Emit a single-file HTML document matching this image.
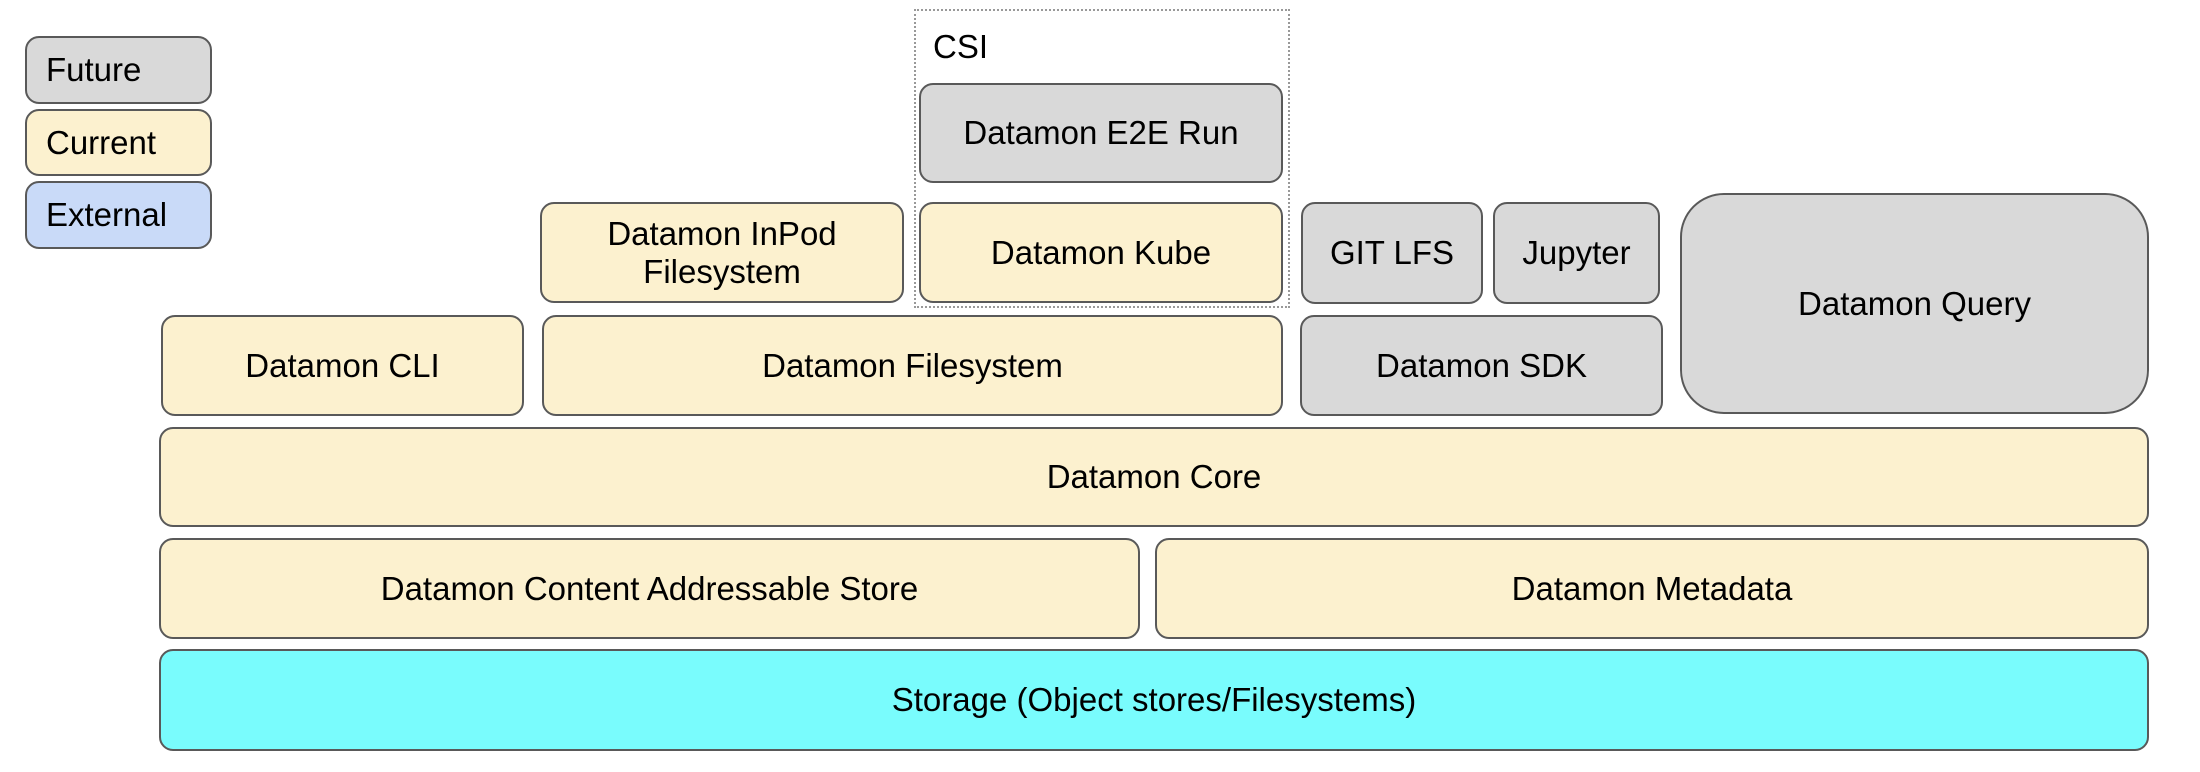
<!DOCTYPE html>
<html><head><meta charset="utf-8"><style>
body{margin:0;width:2200px;height:772px;background:#fff;position:relative;overflow:hidden;font-family:"Liberation Sans",Arial,sans-serif;}
.b{position:absolute;box-sizing:border-box;border:2px solid #595959;border-radius:14px;display:flex;align-items:center;justify-content:center;text-align:center;font-size:33px;color:#000;line-height:1.15;}
.f{background:#d9d9d9}.c{background:#fcf1cf}.e{background:#c9daf8}.s{background:#79fcfd}
.l{justify-content:flex-start;padding-left:19px}
</style></head><body>
<div class="b f l" style="left:25px;top:36px;width:187px;height:68px">Future</div>
<div class="b c l" style="left:25px;top:109px;width:187px;height:67px">Current</div>
<div class="b e l" style="left:25px;top:181px;width:187px;height:68px">External</div>

<div style="position:absolute;left:914px;top:9px;width:376px;height:299px;box-sizing:border-box;border:2px dotted #999"></div>
<div style="position:absolute;left:933px;top:28px;font-size:33px">CSI</div>
<div class="b f" style="left:919px;top:83px;width:364px;height:100px">Datamon E2E Run</div>
<div class="b c" style="left:919px;top:202px;width:364px;height:101px">Datamon Kube</div>
<div class="b c" style="left:540px;top:202px;width:364px;height:101px">Datamon InPod<br>Filesystem</div>
<div class="b f" style="left:1301px;top:202px;width:182px;height:102px">GIT LFS</div>
<div class="b f" style="left:1493px;top:202px;width:167px;height:102px">Jupyter</div>
<div class="b f" style="left:1680px;top:193px;width:469px;height:221px;border-radius:44px">Datamon Query</div>

<div class="b c" style="left:161px;top:315px;width:363px;height:101px">Datamon CLI</div>
<div class="b c" style="left:542px;top:315px;width:741px;height:101px">Datamon Filesystem</div>
<div class="b f" style="left:1300px;top:315px;width:363px;height:101px">Datamon SDK</div>

<div class="b c" style="left:159px;top:427px;width:1990px;height:100px">Datamon Core</div>
<div class="b c" style="left:159px;top:538px;width:981px;height:101px">Datamon Content Addressable Store</div>
<div class="b c" style="left:1155px;top:538px;width:994px;height:101px">Datamon Metadata</div>
<div class="b s" style="left:159px;top:649px;width:1990px;height:102px">Storage (Object stores/Filesystems)</div>
</body></html>
